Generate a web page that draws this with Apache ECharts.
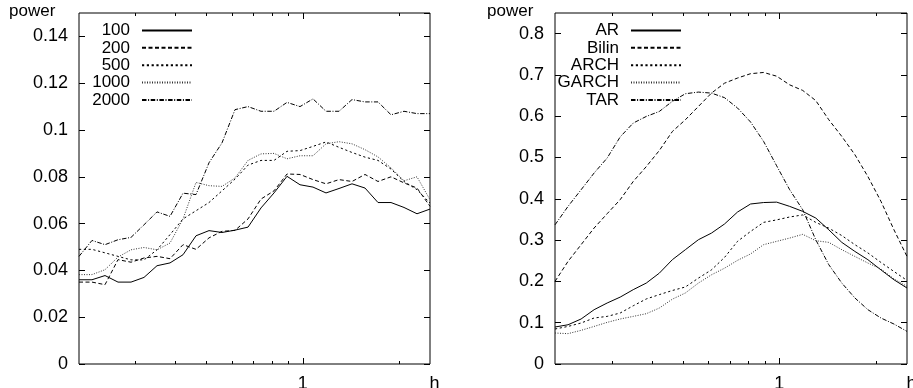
<!DOCTYPE html>
<html>
<head>
<meta charset="utf-8">
<script src="https://cdn.jsdelivr.net/npm/echarts@6/dist/echarts.min.js"></script>
<style>
html,body{margin:0;padding:0;background:#fff;}
#chart{width:913px;height:388px;}
</style>
</head>
<body>
<div id="chart"></div>
<script>
// ---- data ----
const hValues = [0.2, 0.2196, 0.2412, 0.2648, 0.2908, 0.3193, 0.3506, 0.385, 0.4228, 0.4642, 0.5097, 0.5597, 0.6146, 0.6749, 0.741, 0.8137, 0.8935, 0.9811, 1.0773, 1.1829, 1.2989, 1.4263, 1.5661, 1.7197, 1.8883, 2.0735, 2.2768, 2.5];

const leftNames = ['100', '200', '500', '1000', '2000'];
const power100 = [0.036, 0.036, 0.0378, 0.035, 0.035, 0.037, 0.042, 0.0432, 0.0467, 0.0548, 0.057, 0.0562, 0.0572, 0.0585, 0.0667, 0.0731, 0.0802, 0.0766, 0.0756, 0.0731, 0.075, 0.077, 0.0752, 0.069, 0.069, 0.0669, 0.0642, 0.0662];
const power200 = [0.035, 0.035, 0.0339, 0.0446, 0.0435, 0.0453, 0.046, 0.045, 0.051, 0.049, 0.0539, 0.0567, 0.0571, 0.062, 0.0705, 0.074, 0.0812, 0.081, 0.0788, 0.077, 0.0788, 0.078, 0.081, 0.078, 0.08, 0.0774, 0.0752, 0.0674];
const power500 = [0.049, 0.049, 0.0475, 0.046, 0.0445, 0.0445, 0.0488, 0.0553, 0.062, 0.0655, 0.069, 0.074, 0.079, 0.085, 0.087, 0.087, 0.0909, 0.0912, 0.093, 0.0949, 0.0926, 0.0904, 0.0884, 0.087, 0.0833, 0.078, 0.0745, 0.0688];
const power1000 = [0.0382, 0.0382, 0.0403, 0.0457, 0.0488, 0.0498, 0.0488, 0.0517, 0.062, 0.0776, 0.0762, 0.0759, 0.0795, 0.087, 0.0898, 0.09, 0.0877, 0.089, 0.089, 0.0941, 0.095, 0.0941, 0.0916, 0.0885, 0.0838, 0.0783, 0.08, 0.0702];
const power2000 = [0.046, 0.0528, 0.051, 0.0531, 0.0541, 0.0595, 0.065, 0.0631, 0.073, 0.0724, 0.086, 0.0945, 0.1087, 0.11, 0.108, 0.108, 0.1118, 0.11, 0.1133, 0.108, 0.108, 0.113, 0.112, 0.112, 0.1065, 0.108, 0.107, 0.107];

const rightNames = ['AR', 'Bilin', 'ARCH', 'GARCH', 'TAR'];
const powerAR = [0.0896, 0.095, 0.109, 0.1315, 0.1477, 0.162, 0.18, 0.196, 0.22, 0.2526, 0.2768, 0.301, 0.317, 0.339, 0.368, 0.3875, 0.391, 0.392, 0.3817, 0.3696, 0.3535, 0.325, 0.2945, 0.2727, 0.2526, 0.228, 0.204, 0.184];
const powerBilin = [0.2, 0.2485, 0.289, 0.3293, 0.364, 0.398, 0.442, 0.478, 0.517, 0.563, 0.5915, 0.6237, 0.656, 0.68, 0.6925, 0.703, 0.706, 0.697, 0.676, 0.6625, 0.638, 0.5915, 0.551, 0.507, 0.454, 0.394, 0.325, 0.2605];
const powerARCH = [0.0847, 0.091, 0.0993, 0.1114, 0.1153, 0.1235, 0.141, 0.1575, 0.168, 0.178, 0.1865, 0.208, 0.228, 0.258, 0.297, 0.321, 0.343, 0.349, 0.356, 0.361, 0.343, 0.329, 0.311, 0.289, 0.269, 0.246, 0.224, 0.2025];
const powerGARCH = [0.075, 0.0735, 0.0815, 0.091, 0.1008, 0.109, 0.1153, 0.1218, 0.1355, 0.157, 0.172, 0.196, 0.216, 0.232, 0.251, 0.2665, 0.289, 0.297, 0.305, 0.314, 0.2986, 0.2945, 0.2768, 0.2605, 0.2445, 0.23, 0.206, 0.188];
const powerTAR = [0.337, 0.3817, 0.422, 0.4625, 0.4988, 0.55, 0.5835, 0.5995, 0.6116, 0.636, 0.6545, 0.6585, 0.656, 0.645, 0.62, 0.586, 0.539, 0.48, 0.422, 0.3736, 0.301, 0.2405, 0.196, 0.16, 0.1315, 0.1114, 0.0968, 0.079];

const xTickValues = [0.3, 0.4, 0.5, 0.6, 0.7, 0.8, 0.9, 1, 2];
const xLabelValues = [1, 2.5];
const xLabelTexts = ['1', 'h'];
const yAxisTitle = 'power';

// ---- styles ----
const FONT = 'Liberation Sans';
const FS = 17;
const dashStyles = ['solid', [4, 2.5], [2.2, 2.6], [1, 1.5], [4.5, 1.6, 1, 1.6]];
const lineColors = ['#000', '#000', '#000', '#333', '#000'];

const leftData = [power100, power200, power500, power1000, power2000];
const rightData = [powerAR, powerBilin, powerARCH, powerGARCH, powerTAR];

const grids = [
  {left: 79, top: 13, width: 351, height: 351, yMax: 0.15, yInt: 0.02},
  {left: 555, top: 13, width: 352, height: 351, yMax: 0.85, yInt: 0.1}
];

function lineSeries(names, data, gi) {
  return names.map((n, i) => ({
    name: n,
    type: 'line',
    xAxisIndex: gi,
    yAxisIndex: gi * 2,
    symbol: 'none',
    showSymbol: false,
    silent: true,
    lineStyle: {color: lineColors[i], width: 1, type: dashStyles[i]},
    itemStyle: {color: lineColors[i]},
    data: hValues.map((h, k) => [h, data[i][k]])
  }));
}

function tickSeries(gi) {
  const yMax = grids[gi].yMax;
  return {
    type: 'custom', xAxisIndex: gi, yAxisIndex: gi * 2, silent: true, clip: false, z: 5,
    data: xTickValues.map(v => [v]),
    renderItem: function (params, api) {
      const v = api.value(0);
      const L = v === 1 ? 6 : 3;
      const b = api.coord([v, 0]);
      const t = api.coord([v, yMax]);
      const x = Math.round(b[0]) + 0.5;
      return {type: 'group', children: [
        {type: 'line', shape: {x1: x, y1: b[1], x2: x, y2: b[1] - L}, style: {stroke: '#000', lineWidth: 1}},
        {type: 'line', shape: {x1: x, y1: t[1], x2: x, y2: t[1] + L}, style: {stroke: '#000', lineWidth: 1}}
      ]};
    }
  };
}

function labelSeries(gi) {
  return {
    type: 'custom', xAxisIndex: gi, yAxisIndex: gi * 2, silent: true, clip: false, z: 5,
    data: xLabelValues.map(v => [v]),
    renderItem: function (params, api) {
      const v = api.value(0);
      const p = api.coord([v, 0]);
      const txt = xLabelTexts[params.dataIndex];
      const isEnd = txt === 'h';
      return {type: 'text', x: isEnd ? p[0] - 0.5 : p[0], y: p[1] + 11,
        style: {text: txt, fill: '#000', font: '18px "' + FONT + '"', align: isEnd ? 'left' : 'center', verticalAlign: 'top'}};
    }
  };
}

function yAxes(gi) {
  const g = grids[gi];
  const base = {
    type: 'value', gridIndex: gi, min: 0, max: g.yMax, interval: g.yInt,
    axisLine: {show: false}, splitLine: {show: false},
    axisTick: {show: true, inside: true, length: 6, lineStyle: {color: '#000', width: 1}}
  };
  return [
    Object.assign({}, base, {position: 'left',
      axisLabel: {show: true, showMaxLabel: false, margin: 11, color: '#000', fontFamily: FONT, fontSize: 18}}),
    Object.assign({}, base, {position: 'right', axisLabel: {show: false}})
  ];
}

function xAxis(gi) {
  return {
    type: 'log', logBase: 10, gridIndex: gi, min: 0.2, max: 2.5,
    axisLine: {show: false}, axisTick: {show: false}, axisLabel: {show: false},
    splitLine: {show: false}, minorTick: {show: false}, minorSplitLine: {show: false}
  };
}

function legend(names, right) {
  return {
    data: names, orient: 'vertical', align: 'right', right: right, top: 22,
    padding: 0, itemWidth: 50, itemHeight: 12, itemGap: 0.35, selectedMode: false,
    itemStyle: {opacity: 0},
    textStyle: {color: '#000', fontFamily: FONT, fontSize: FS, padding: [0, 7, 0, 0]}
  };
}

const chart = echarts.init(document.getElementById('chart'), null, {renderer: 'canvas'});
chart.setOption({
  animation: false,
  backgroundColor: '#fff',
  grid: grids.map(g => ({left: g.left, top: g.top, width: g.width, height: g.height, show: true, borderColor: '#000', borderWidth: 1, backgroundColor: 'transparent'})),
  xAxis: [xAxis(0), xAxis(1)],
  yAxis: yAxes(0).concat(yAxes(1)),
  legend: [legend(leftNames, 913 - 193), legend(rightNames, 913 - 682)],
  graphic: [
    {type: 'text', left: 9, top: 3, style: {text: yAxisTitle, fill: '#000', font: FS + 'px "' + FONT + '"'}},
    {type: 'text', left: 487, top: 3, style: {text: yAxisTitle, fill: '#000', font: FS + 'px "' + FONT + '"'}}
  ],
  series: lineSeries(leftNames, leftData, 0)
    .concat(lineSeries(rightNames, rightData, 1))
    .concat([tickSeries(0), tickSeries(1), labelSeries(0), labelSeries(1)])
});
</script>
</body>
</html>
